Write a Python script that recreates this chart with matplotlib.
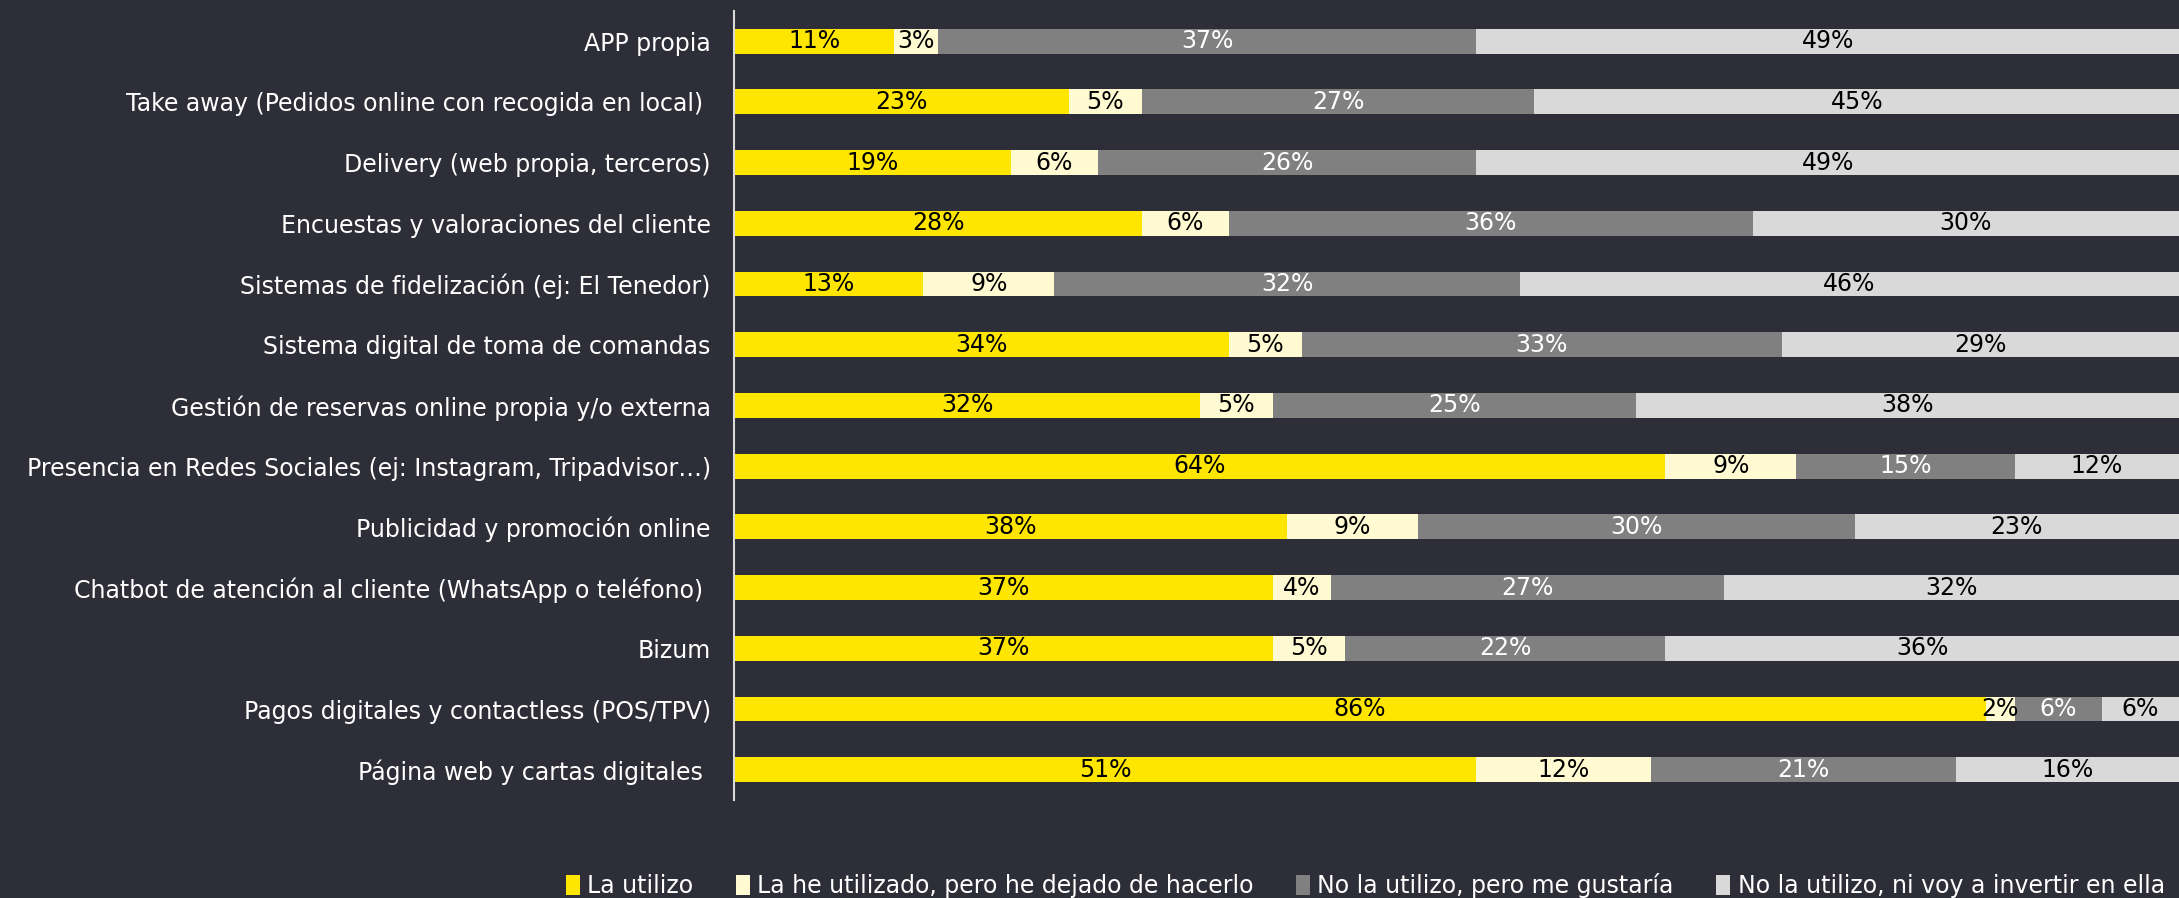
import numpy as np
import matplotlib.pyplot as plt

plt.rcParams['font.family'] = ['DejaVu Sans']

# categories, top to bottom
categories = [
    'APP propia',
    'Take away (Pedidos online con recogida en local) ',
    'Delivery (web propia, terceros)',
    'Encuestas y valoraciones del cliente',
    'Sistemas de fidelización (ej: El Tenedor)',
    'Sistema digital de toma de comandas',
    'Gestión de reservas online propia y/o externa',
    'Presencia en Redes Sociales (ej: Instagram, Tripadvisor…)',
    'Publicidad y promoción online',
    'Chatbot de atención al cliente (WhatsApp o teléfono) ',
    'Bizum',
    'Pagos digitales y contactless (POS/TPV)',
    'Página web y cartas digitales ',
]

la_utilizo = [11, 23, 19, 28, 13, 34, 32, 64, 38, 37, 37, 86, 51]
dejado = [3, 5, 6, 6, 9, 5, 5, 9, 9, 4, 5, 2, 12]
me_gustaria = [37, 27, 26, 36, 32, 33, 25, 15, 30, 27, 22, 6, 21]
no_invertir = [49, 45, 49, 30, 46, 29, 38, 12, 23, 32, 36, 6, 16]

series_names = ['La utilizo', 'La he utilizado, pero he dejado de hacerlo',
                'No la utilizo, pero me gustaría', 'No la utilizo, ni voy a invertir en ella']

bg = '#2E2E38'
colors = ['#FFE600', '#FFFAD2', '#808080', '#D9D9D9']
text_colors = ['black', 'black', 'white', 'black']

fig = plt.figure(figsize=(21.79, 8.98), dpi=100, facecolor=bg)
ax = fig.add_axes([0.337, 0.109, 0.663, 0.879])
ax.set_facecolor(bg)

y = np.arange(len(categories))
left = np.zeros(len(categories))
all_series = [la_utilizo, dejado, me_gustaria, no_invertir]
for vals, name, c, tc in zip(all_series, series_names, colors, text_colors):
    vals = np.array(vals)
    bars = ax.barh(y, vals, left=left, height=0.41, color=c, label=name)
    ax.bar_label(bars, labels=[f'{v}%' for v in vals], label_type='center',
                 color=tc, fontsize=17)
    left += vals

ax.set_ylim(len(categories) - 0.5, -0.5)
ax.set_xlim(0, 99.3)
ax.set_yticks(y)
ax.set_yticklabels(categories, color='white', fontsize=17)
ax.tick_params(axis='y', length=0, pad=17)
ax.set_xticks([])
for s in ['top', 'right', 'bottom']:
    ax.spines[s].set_visible(False)
ax.spines['left'].set_color('#D9D9D9')
ax.spines['left'].set_linewidth(1.5)

fig.legend(loc='lower left', bbox_to_anchor=(0.250, -0.024), ncol=4, frameon=False,
           handlelength=0.6, handleheight=0.9, handletextpad=0.3, columnspacing=1.8,
           labelcolor='white', fontsize=17)

fig.savefig('out.png', dpi=100, facecolor=bg)
